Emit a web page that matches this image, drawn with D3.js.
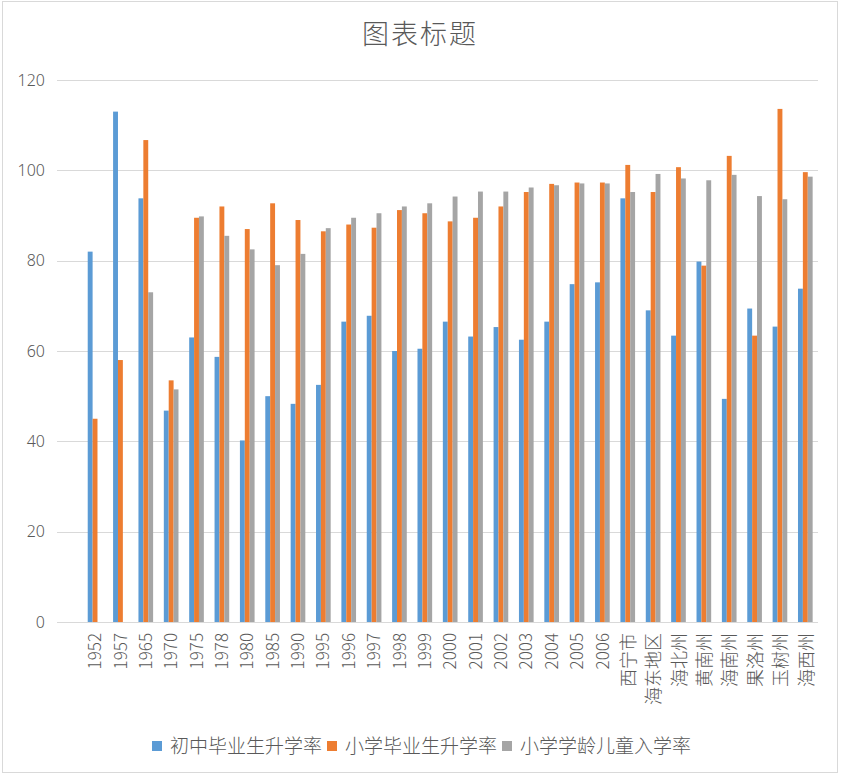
<!DOCTYPE html>
<html lang="zh-cn">
<head>
<meta charset="utf-8">
<title>图表标题</title>
<script src="https://cdn.jsdelivr.net/npm/d3@7"></script>
<style>
  body { margin: 0; background: #fff; }
  text { font-family: "Noto Sans CJK SC", "Noto Sans", sans-serif; fill: #595959; font-weight: 300; }
  .grid line { stroke: #d9d9d9; stroke-width: 1; }
</style>
</head>
<body>
<svg width="841" height="777"></svg>
<script>
// 类别（第一个为空行）
var categories = ["", "1952", "1957", "1965", "1970", "1975", "1978", "1980", "1985", "1990",
  "1995", "1996", "1997", "1998", "1999", "2000", "2001", "2002", "2003", "2004",
  "2005", "2006", "西宁市", "海东地区", "海北州", "黄南州", "海南州", "果洛州", "玉树州", "海西州"];

var seriesNames = ["初中毕业生升学率", "小学毕业生升学率", "小学学龄儿童入学率"];

var juniorRate = [null, 82, 113, 93.8, 46.8, 63, 58.7, 40.2, 50, 48.3,
  52.5, 66.5, 67.8, 60, 60.5, 66.5, 63.2, 65.3, 62.5, 66.5,
  74.8, 75.2, 93.8, 69, 63.4, 79.8, 49.4, 69.4, 65.4, 73.8];

var primaryRate = [null, 45, 58, 106.7, 53.5, 89.5, 92, 87, 92.7, 89,
  86.5, 88, 87.3, 91.2, 90.5, 88.7, 89.5, 92, 95.2, 97,
  97.3, 97.3, 101.2, 95.2, 100.7, 78.9, 103.2, 63.4, 113.6, 99.6];

var enrolRate = [null, null, null, 73, 51.5, 89.8, 85.5, 82.5, 79, 81.5,
  87.2, 89.5, 90.5, 92, 92.7, 94.2, 95.3, 95.3, 96.2, 96.7,
  97.1, 97.1, 95.2, 99.2, 98.2, 97.8, 99, 94.3, 93.6, 98.6];

var yTicks = [0, 20, 40, 60, 80, 100, 120];
var colors = ["#5b9bd5", "#ed7d31", "#a5a5a5"];

var svg = d3.select("svg");

// 外框
svg.append("rect")
    .attr("x", 2.5).attr("y", 1.5)
    .attr("width", 835).attr("height", 771)
    .attr("fill", "#fff")
    .attr("stroke", "#d9d9d9");

var x = d3.scaleBand().domain(categories).range([57, 818]).paddingInner(0).paddingOuter(0);
var y = d3.scaleLinear().domain([0, 120]).range([622, 80]);

var barW = x.bandwidth() / (3 + 2.19);
var xs = d3.scaleBand().domain(d3.range(3)).range([0, barW * 3]);

// 标题
svg.append("text")
    .attr("x", 420).attr("y", 44)
    .attr("text-anchor", "middle")
    .style("font-size", "27px")
    .style("letter-spacing", "2px")
    .text("图表标题");

// 网格线
svg.append("g").attr("class", "grid")
  .selectAll("line").data(yTicks).enter().append("line")
    .attr("x1", 57).attr("x2", 818)
    .attr("y1", function(d) { return Math.round(y(d)) + 0.5; })
    .attr("y2", function(d) { return Math.round(y(d)) + 0.5; });

// Y 轴
svg.append("g")
    .attr("transform", "translate(45,0)")
    .call(d3.axisLeft(y).tickValues(yTicks).tickSize(0).tickPadding(0))
    .call(function(g) { g.select(".domain").remove(); })
    .selectAll("text")
    .style("font-size", "16px")
    .style("font-family", "'Noto Sans', sans-serif")
    .attr("fill", "#595959");

// 柱子
var all = [juniorRate, primaryRate, enrolRate];
all.forEach(function(vals, s) {
  svg.append("g")
      .attr("fill", colors[s])
    .selectAll("rect")
    .data(vals.map(function(v, i) { return {c: categories[i], v: v}; })
               .filter(function(d) { return d.v != null; }))
    .enter().append("rect")
      .attr("x", function(d) { return x(d.c) + (x.bandwidth() - barW * 3) / 2 + xs(s); })
      .attr("y", function(d) { return y(d.v); })
      .attr("width", barW)
      .attr("height", function(d) { return y(0) - y(d.v); });
});

// X 轴标签（旋转 -90°）
svg.append("g")
  .selectAll("text")
  .data(categories.filter(function(c) { return c; }))
  .enter().append("text")
    .attr("transform", function(c) {
      return "translate(" + (x(c) + x.bandwidth() / 2) + ",633) rotate(-90)";
    })
    .attr("text-anchor", "end")
    .attr("dy", function(c) { return /^\d+$/.test(c) ? "0.36em" : "0.4em"; })
    .style("font-size", function(c) { return /^\d+$/.test(c) ? "17px" : "18px"; })
    .text(function(c) { return c; });

// 图例
var legendX = [152, 327, 502];
var lg = svg.append("g");
seriesNames.forEach(function(n, i) {
  lg.append("rect")
      .attr("x", legendX[i]).attr("y", 741)
      .attr("width", 10).attr("height", 10)
      .attr("fill", colors[i]);
  lg.append("text")
      .attr("x", legendX[i] + 18).attr("y", 753)
      .style("font-size", "19px")
      .text(n);
});
</script>
</body>
</html>
